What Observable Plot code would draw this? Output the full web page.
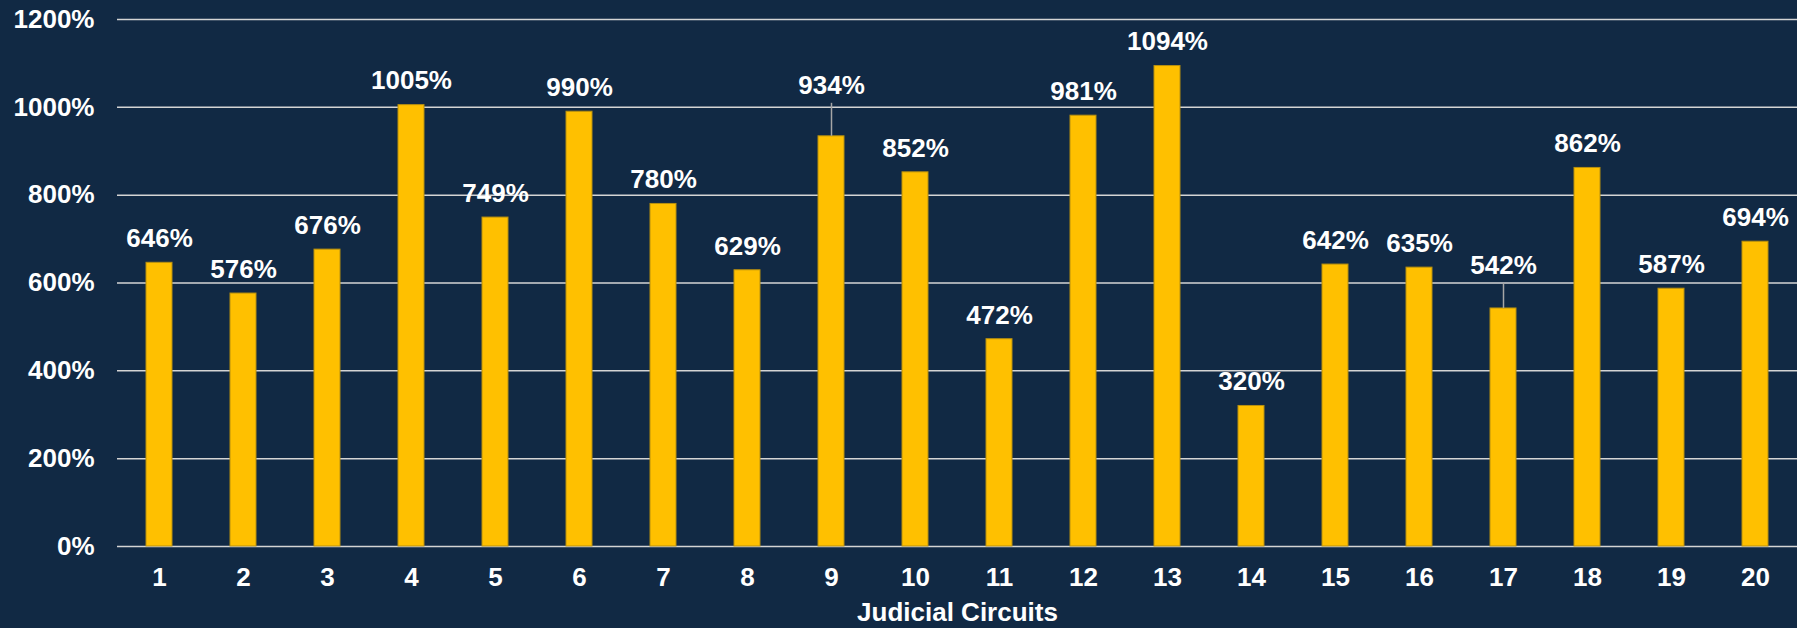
<!DOCTYPE html>
<html>
<head>
<meta charset="utf-8">
<script src="https://cdn.jsdelivr.net/npm/d3@7"></script>
<script src="https://cdn.jsdelivr.net/npm/@observablehq/plot@0.6"></script>
<style>
  html, body { margin: 0; padding: 0; background: #112944; }
  #chart svg { display: block; }
</style>
</head>
<body>
<div id="chart"></div>
<script>
// Percentage growth by judicial circuit
const circuits = [1, 2, 3, 4, 5, 6, 7, 8, 9, 10, 11, 12, 13, 14, 15, 16, 17, 18, 19, 20];
const growth = [646, 576, 676, 1005, 749, 990, 780, 629, 934, 852, 472, 981, 1094, 320, 642, 635, 542, 862, 587, 694];
const yTicks = [0, 200, 400, 600, 800, 1000, 1200];
const axisTitle = "Judicial Circuits";

// Labels lifted clear of a gridline, joined to their bar by a leader line (px lift)
const leaderLift = new Map([[9, 27], [17, 19]]);

const rows = circuits.map((c, i) => ({circuit: c, value: growth[i]}));
const plain = rows.filter(d => !leaderLift.has(d.circuit));
const lifted = rows.filter(d => leaderLift.has(d.circuit));

const BG = "#112944";
const GOLD = "#FFC000";
const FONT = "'Liberation Sans', Arial, Helvetica, sans-serif";
const pct = d => `${d}%`;
const labelGap = 24;

const chart = Plot.plot({
  width: 1797,
  height: 628,
  marginLeft: 117,
  marginRight: 0,
  marginTop: 19,
  marginBottom: 82,
  style: {background: BG, color: "#ffffff", fontFamily: FONT, fontSize: "26px", fontWeight: "bold"},
  x: {type: "band", domain: circuits, paddingInner: 0.69, paddingOuter: 0.345, label: null},
  y: {domain: [0, 1200], label: null},
  marks: [
    Plot.gridY(yTicks, {stroke: "#d4d4d4", strokeOpacity: 1, strokeWidth: 1.5}),
    Plot.barY(rows, {x: "circuit", y: "value", fill: GOLD, stroke: "#b8900f", strokeWidth: 1}),
    ...lifted.map(d => Plot.ruleX([d], {
      x: "circuit", y1: "value", y2: "value",
      insetBottom: leaderLift.get(d.circuit) + 6,
      stroke: "#a6a6a6", strokeWidth: 1.5
    })),
    Plot.text(plain, {
      x: "circuit", y: "value", text: d => pct(d.value),
      lineAnchor: "middle", dy: -labelGap, fill: "#ffffff", fontSize: 26, fontWeight: "bold"
    }),
    ...lifted.map(d => Plot.text([d], {
      x: "circuit", y: "value", text: v => pct(v.value),
      lineAnchor: "middle", dy: -labelGap - leaderLift.get(d.circuit), fill: "#ffffff", fontSize: 26, fontWeight: "bold"
    })),
    Plot.axisY(yTicks, {tickSize: 0, tickPadding: 23, tickFormat: pct, label: null, fill: "#ffffff", fontSize: 26, fontWeight: "bold"}),
    Plot.axisX({tickSize: 0, tickPadding: 21, label: null, fill: "#ffffff", fontSize: 26, fontWeight: "bold"}),
    Plot.text([axisTitle], {frameAnchor: "bottom", dy: 66, lineAnchor: "middle", fill: "#ffffff", fontSize: 26, fontWeight: "bold"})
  ]
});

document.getElementById("chart").appendChild(chart);
</script>
</body>
</html>
